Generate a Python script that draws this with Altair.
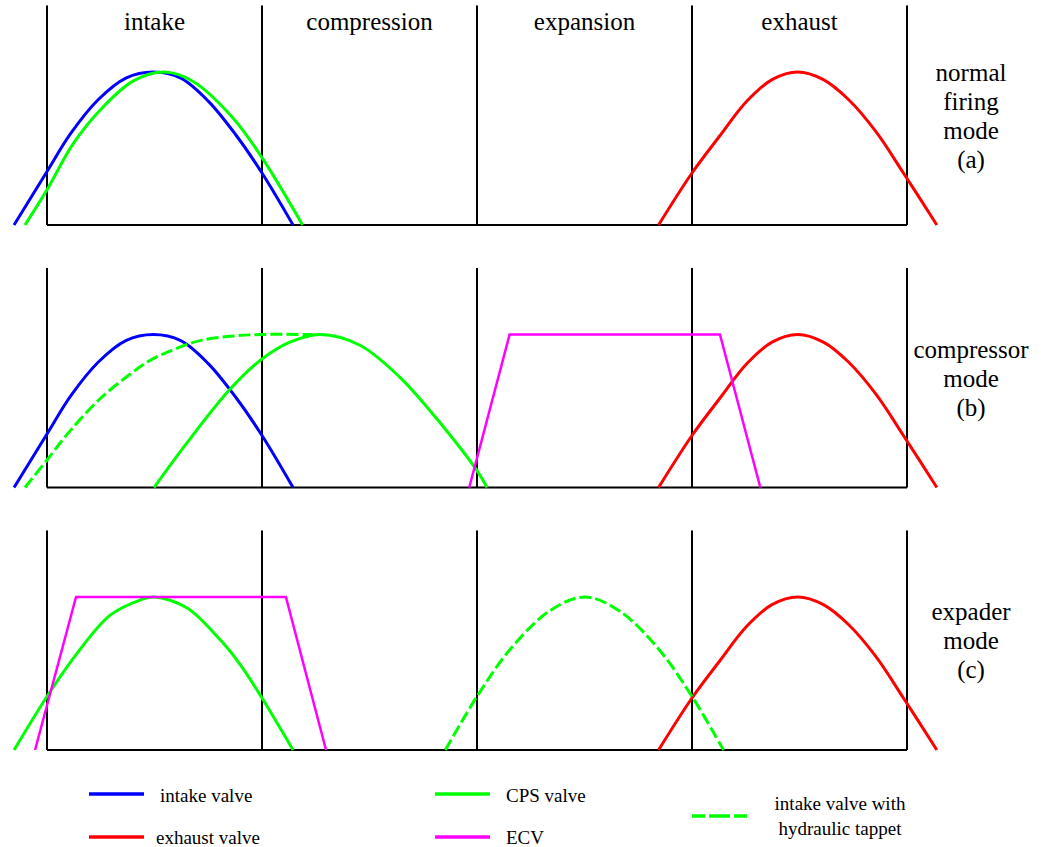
import altair as alt
import pandas as pd

# ---- valve lift events: (crank angle in degrees, normalised lift) ----
INTAKE_VALVE = [(-27.6, 0.0), (0, 0.35), (20, 0.6), (43, 0.82), (66, 0.96),
                (89, 1.0), (112, 0.96), (135, 0.81), (158, 0.59), (180, 0.34),
                (206, 0.0)]
EXHAUST_VALVE = [(512, 0.0), (540, 0.34), (563, 0.58), (586, 0.81), (607, 0.95),
                 (628.5, 1.0), (650, 0.95), (671, 0.82), (694, 0.61), (717, 0.34),
                 (745, 0.0)]
CPS_VALVE_A = [(-18.4, 0.0), (0, 0.23), (21.8, 0.53), (44.4, 0.75), (72, 0.94),
               (98, 1.0), (122, 0.94), (155.7, 0.70), (180, 0.44), (214, 0.0)]
CPS_VALVE_B = [(89.6, 0.0), (117, 0.29), (153, 0.64), (180, 0.84), (203.4, 0.95),
               (228.6, 1.0), (262, 0.93), (295.5, 0.72), (323, 0.48), (360, 0.11),
               (368.4, 0.0)]
CPS_VALVE_C = [(-27.6, 0.0), (0, 0.35), (25, 0.63), (52.7, 0.88), (78, 0.98),
               (90, 1.0), (117, 0.93), (145, 0.72), (161.6, 0.56), (180, 0.34),
               (206, 0.0)]
TAPPET_B = [(-18.4, 0.0), (0, 0.18), (19.3, 0.37), (44.4, 0.58), (69.5, 0.74),
            (86.2, 0.83), (105.5, 0.9), (128, 0.96), (155.7, 0.99), (180, 1.0),
            (222, 1.0)]
TAPPET_C = [(333.5, 0.0), (360, 0.35), (388, 0.66), (421, 0.91), (450, 1.0),
            (479, 0.91), (512, 0.66), (540, 0.35), (566.4, 0.0)]
ECV_B = [(353.5, 0.0), (387.3, 1.0), (563.4, 1.0), (597.2, 0.0)]
ECV_C = [(-10, 0.0), (24.3, 1.0), (200, 1.0), (233.6, 0.0)]

# ---- strokes and labels ----
PHASES = ["intake", "compression", "expansion", "exhaust"]
PHASE_MID = [90, 270, 450, 630]
STROKE_BOUNDS = [0, 180, 360, 540, 720]
MODE_LABELS = ["normal\nfiring\nmode\n(a)", "compressor\nmode\n(b)", "expader\nmode\n(c)"]

SERIES = ["intake valve", "exhaust valve", "CPS valve", "ECV",
          "intake valve with hydraulic tappet"]
COLORS = ["#0000ff", "#ff0000", "#00ff00", "#ff00ff", "#00ff00"]
TAPPET = SERIES[4]

PANELS = [
    ("a", [("intake valve", INTAKE_VALVE), ("CPS valve", CPS_VALVE_A),
           ("exhaust valve", EXHAUST_VALVE)]),
    ("b", [("intake valve", INTAKE_VALVE), (TAPPET, TAPPET_B),
           ("CPS valve", CPS_VALVE_B), ("ECV", ECV_B),
           ("exhaust valve", EXHAUST_VALVE)]),
    ("c", [("CPS valve", CPS_VALVE_C), ("ECV", ECV_C), (TAPPET, TAPPET_C),
           ("exhaust valve", EXHAUST_VALVE)]),
]

FONT = "Liberation Serif, Times New Roman, Times, serif"
LABEL_SIZE = 25
MODE_LINE_H = 29
PANEL_W, PANEL_H = 1041, 240
X_DOMAIN = [-39.35, 832.19]
Y_DOMAIN = [-0.098, 1.4706]
RULE_TOP = 1.435

color = alt.Color("series:N", scale=alt.Scale(domain=SERIES, range=COLORS), legend=None)


def xs(field):
    return alt.X(field, scale=alt.Scale(domain=X_DOMAIN, nice=False, zero=False), axis=None)


def ys(field):
    return alt.Y(field, scale=alt.Scale(domain=Y_DOMAIN, nice=False, zero=False), axis=None)


def panel(idx):
    key, curves = PANELS[idx]
    rows = []
    for name, pts in curves:
        for i, (deg, lift) in enumerate(pts):
            rows.append({"series": name, "i": i, "deg": deg, "lift": lift})
    df = pd.DataFrame(rows)
    solid = df[(df.series != TAPPET) & (df.series != "ECV")]
    dashed = df[df.series == TAPPET]
    ecv = df[df.series == "ECV"]

    bounds = pd.DataFrame({"deg": STROKE_BOUNDS, "lo": 0.0, "hi": RULE_TOP})
    base_line = pd.DataFrame({"start": [STROKE_BOUNDS[0]], "end": [STROKE_BOUNDS[-1]],
                              "lift": [0.0]})

    layers = [
        alt.Chart(bounds).mark_rule(color="#000", strokeWidth=2).encode(
            x=xs("deg:Q"), y=ys("lo:Q"), y2="hi:Q"),
        alt.Chart(base_line).mark_rule(color="#000", strokeWidth=2).encode(
            x=xs("start:Q"), x2="end:Q", y=ys("lift:Q")),
        alt.Chart(solid).mark_line(strokeWidth=3, interpolate="catmull-rom").encode(
            x=xs("deg:Q"), y=ys("lift:Q"), color=color, detail="series:N", order="i:Q"),
    ]
    if len(ecv):
        layers.append(alt.Chart(ecv).mark_line(strokeWidth=2.5).encode(
            x=xs("deg:Q"), y=ys("lift:Q"), color=color, order="i:Q"))
    if len(dashed):
        layers.append(alt.Chart(dashed).mark_line(
            strokeWidth=3, interpolate="catmull-rom", strokeDash=[12, 4]).encode(
            x=xs("deg:Q"), y=ys("lift:Q"), color=color, order="i:Q"))

    label = MODE_LABELS[idx]
    n_lines = label.count("\n") + 1
    mode = pd.DataFrame({"deg": [773.6], "lift": [0.712], "text": [label]})
    layers.append(alt.Chart(mode).mark_text(
        font=FONT, fontSize=LABEL_SIZE, lineHeight=MODE_LINE_H, align="center",
        baseline="middle", lineBreak="\n", dy=-(n_lines - 1) * MODE_LINE_H / 2,
        color="#000").encode(x=xs("deg:Q"), y=ys("lift:Q"), text="text:N"))

    if idx == 0:
        ph = pd.DataFrame({"deg": PHASE_MID, "lift": 1.327, "text": PHASES})
        layers.append(alt.Chart(ph).mark_text(
            font=FONT, fontSize=LABEL_SIZE, align="center", baseline="middle",
            color="#000").encode(x=xs("deg:Q"), y=ys("lift:Q"), text="text:N"))

    return alt.layer(*layers).properties(width=PANEL_W, height=PANEL_H)


# ---- legend block: slot layout for each series ----
LEG_H = 60
LEG_LINE_H = 25
LEGEND_SLOTS = {
    "intake valve": dict(x1=89, x2=144, y=6.5, tx=160, ty=8.5, align="left"),
    "exhaust valve": dict(x1=89, x2=144, y=49.5, tx=156, ty=50.5, align="left"),
    "CPS valve": dict(x1=435, x2=490, y=6.5, tx=506, ty=8.5, align="left"),
    "ECV": dict(x1=435, x2=490, y=49.5, tx=506, ty=50.5, align="left"),
    TAPPET: dict(x1=692, x2=747, y=28.5, tx=840, ty=29.0, align="center"),
}
LEGEND_TEXT = {TAPPET: "intake valve with\nhydraulic tappet"}

leg = pd.DataFrame([
    {"series": s, "label": LEGEND_TEXT.get(s, s), **LEGEND_SLOTS[s]} for s in SERIES
])
lx = alt.Scale(domain=[0, PANEL_W], nice=False, zero=False)
ly = alt.Scale(domain=[0, LEG_H], reverse=True, nice=False, zero=False)

legend = alt.layer(
    alt.Chart(leg).mark_rule(strokeWidth=3.5).encode(
        x=alt.X("x1:Q", scale=lx, axis=None), x2="x2:Q",
        y=alt.Y("y:Q", scale=ly, axis=None), color=color
    ).transform_filter(alt.datum.series != TAPPET),
    alt.Chart(leg).mark_rule(strokeWidth=3.5, strokeDash=[13, 4, 21, 4]).encode(
        x=alt.X("x1:Q", scale=lx, axis=None), x2="x2:Q",
        y=alt.Y("y:Q", scale=ly, axis=None), color=color
    ).transform_filter(alt.datum.series == TAPPET),
    alt.Chart(leg).mark_text(font=FONT, fontSize=19, align="left", baseline="middle",
                             color="#000").encode(
        x=alt.X("tx:Q", scale=lx, axis=None), y=alt.Y("ty:Q", scale=ly, axis=None),
        text="label:N"
    ).transform_filter(alt.datum.align == "left"),
    alt.Chart(leg).mark_text(font=FONT, fontSize=19, align="center", baseline="middle",
                             lineHeight=LEG_LINE_H, lineBreak="\n", dy=-LEG_LINE_H / 2,
                             color="#000").encode(
        x=alt.X("tx:Q", scale=lx, axis=None), y=alt.Y("ty:Q", scale=ly, axis=None),
        text="label:N"
    ).transform_filter(alt.datum.align == "center"),
).properties(width=PANEL_W, height=LEG_H)

chart = alt.vconcat(
    panel(0), panel(1), panel(2), legend, spacing=22.5, bounds="flush"
).properties(
    padding=0, background="white"
).configure_view(stroke=None)

chart.save("out.html", embed_options={"renderer": "svg", "actions": False})
